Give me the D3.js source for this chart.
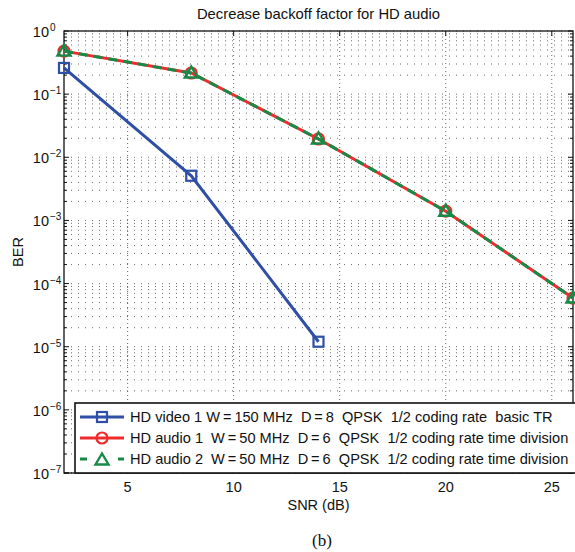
<!DOCTYPE html>
<html>
<head>
<meta charset="utf-8">
<script src="https://cdn.jsdelivr.net/npm/d3@7"></script>
<style>
  body { margin: 0; background: #fff; }
  text { font-family: "Liberation Sans", Arial, Helvetica, sans-serif; fill: #111; }
</style>
</head>
<body>
<svg id="chart" width="575" height="552"></svg>
<script>
// data
var snrVideo = [2, 8, 14];
var berVideo = [0.26, 0.0051, 1.2e-5];
var snrAudio = [2, 8, 14, 20, 26];
var berAudio1 = [0.48, 0.216, 0.0195, 0.0014, 5.9e-5];
var berAudio2 = [0.48, 0.216, 0.0195, 0.0014, 5.9e-5];
var xTicks = [5, 10, 15, 20, 25];
var yExponents = [0, -1, -2, -3, -4, -5, -6, -7];
var legendLabels = [
    "HD video 1 W\u2009=\u2009150 MHz  D\u2009=\u20098  QPSK  1/2 coding rate  basic TR",
    "HD audio 1  W\u2009=\u200950 MHz  D\u2009=\u20096  QPSK  1/2 coding rate time division",
    "HD audio 2  W\u2009=\u200950 MHz  D\u2009=\u20096  QPSK  1/2 coding rate time division"
];

var blue = "#2f4fa6", red = "#ef2b2d", green = "#178a48";

// plot box (note: "top" is taken by window.top)
var pLeft = 64, pRight = 573, pTop = 31, pBottom = 473;
var svg = d3.select("#chart");

var x = d3.scaleLinear().domain([2, 26]).range([pLeft, pRight]);
var y = d3.scaleLog().domain([1, 1e-7]).range([pTop, pBottom]);

/*
grid: dotted horizontal lines on every decade step, dotted verticals on x ticks
*/
var yGrid = [];
yExponents.forEach(function(e){
    if(e == -7) { yGrid.push(1e-7); return; }
    for(var k = 1; k < 10; k++) yGrid.push(k * Math.pow(10, e - 1));
});
yGrid.push(1);

var grid = svg.append("g").attr("class", "grid");
grid.selectAll("line.h").data(yGrid).enter().append("line")
    .attr("class", "h")
    .attr("x1", pLeft).attr("x2", pRight)
    .attr("y1", function(d){ return y(d); })
    .attr("y2", function(d){ return y(d); })
    .style("stroke", "#444")
    .style("stroke-width", "0.8")
    .style("stroke-dasharray", "1,6");
grid.selectAll("line.v").data(xTicks).enter().append("line")
    .attr("class", "v")
    .attr("x1", function(d){ return x(d); }).attr("x2", function(d){ return x(d); })
    .attr("y1", pTop).attr("y2", pBottom)
    .style("stroke", "#444")
    .style("stroke-width", "0.8")
    .style("stroke-dasharray", "1,3");

/*
axes box with inward ticks
*/
var axes = svg.append("g").attr("class", "axes");
axes.append("rect")
    .attr("x", pLeft).attr("y", pTop)
    .attr("width", pRight - pLeft).attr("height", pBottom - pTop)
    .style("fill", "none").style("stroke", "#111").style("stroke-width", "1.3");

yGrid.forEach(function(d){
    var major = Math.abs(Math.log10(d) - Math.round(Math.log10(d))) < 1e-9;
    var len = major ? 5 : 3;
    axes.append("line").attr("x1", pLeft).attr("x2", pLeft + len)
        .attr("y1", y(d)).attr("y2", y(d)).style("stroke", "#111");
    axes.append("line").attr("x1", pRight).attr("x2", pRight - len)
        .attr("y1", y(d)).attr("y2", y(d)).style("stroke", "#111");
});
xTicks.forEach(function(d){
    axes.append("line").attr("x1", x(d)).attr("x2", x(d))
        .attr("y1", pBottom).attr("y2", pBottom - 5).style("stroke", "#111");
    axes.append("line").attr("x1", x(d)).attr("x2", x(d))
        .attr("y1", pTop).attr("y2", pTop + 5).style("stroke", "#111");
});

// tick labels
axes.selectAll("text.xt").data(xTicks).enter().append("text")
    .attr("class", "xt")
    .attr("x", function(d){ return x(d); })
    .attr("y", pBottom + 19)
    .attr("text-anchor", "middle")
    .style("font-size", "14.5px")
    .text(function(d){ return d; });

var yt = axes.selectAll("g.yt").data(yExponents).enter().append("g").attr("class", "yt");
yt.append("text")
    .attr("x", 49)
    .attr("y", function(d){ return y(Math.pow(10, d)) + 6; })
    .attr("text-anchor", "end")
    .style("font-size", "14.5px")
    .text("10");
yt.append("text")
    .attr("x", 50)
    .attr("y", function(d){ return y(Math.pow(10, d)); })
    .style("font-size", "10px")
    .text(function(d){ return d == 0 ? "0" : "\u2212" + (-d); });

// titles
svg.append("text")
    .attr("x", (pLeft + pRight) / 2).attr("y", 19)
    .attr("text-anchor", "middle")
    .style("font-size", "14.8px")
    .text("Decrease backoff factor for HD audio");
svg.append("text")
    .attr("x", (pLeft + pRight) / 2).attr("y", 510)
    .attr("text-anchor", "middle")
    .style("font-size", "14.5px")
    .text("SNR (dB)");
svg.append("text")
    .attr("transform", "translate(23," + ((pTop + pBottom) / 2) + ") rotate(-90)")
    .attr("text-anchor", "middle")
    .style("font-size", "14.5px")
    .text("BER");
svg.append("text")
    .attr("x", 322).attr("y", 546)
    .attr("text-anchor", "middle")
    .style("font-family", "'Liberation Serif', 'Times New Roman', serif")
    .style("font-size", "17px")
    .text("(b)");

/*
series lines and markers
*/
var line = d3.line()
    .x(function(d){ return x(d[0]); })
    .y(function(d){ return y(d[1]); });

function drawMarker(g, kind, cx, cy, color){
    if(kind == "square"){
        g.append("rect").attr("x", cx - 5).attr("y", cy - 5)
            .attr("width", 10).attr("height", 10)
            .style("fill", "none").style("stroke", color).style("stroke-width", "2.2");
    }
    else if(kind == "circle"){
        g.append("circle").attr("cx", cx).attr("cy", cy).attr("r", 5.5)
            .style("fill", "none").style("stroke", color).style("stroke-width", "2.2");
    }
    else{
        g.append("path")
            .attr("d", "M" + cx + "," + (cy - 6.5) + "L" + (cx + 6.5) + "," + (cy + 4.5) +
                "L" + (cx - 6.5) + "," + (cy + 4.5) + "Z")
            .style("fill", "none").style("stroke", color).style("stroke-width", "2.4")
            .style("stroke-linejoin", "miter");
    }
}

var series = [
    {snr: snrVideo, ber: berVideo, color: blue, marker: "square", dash: null},
    {snr: snrAudio, ber: berAudio1, color: red, marker: "circle", dash: null},
    {snr: snrAudio, ber: berAudio2, color: green, marker: "triangle", dash: "9,6"}
];

var plot = svg.append("g").attr("class", "plot");
series.forEach(function(s){
    var pts = d3.zip(s.snr, s.ber);
    plot.append("path")
        .attr("d", line(pts))
        .style("fill", "none")
        .style("stroke", s.color)
        .style("stroke-width", "3")
        .style("stroke-dasharray", s.dash);
    pts.forEach(function(p){ drawMarker(plot, s.marker, x(p[0]), y(p[1]), s.color); });
});

/*
legend in lower part of the axes
*/
var lg = svg.append("g").attr("class", "legend");
lg.append("rect")
    .attr("x", 75).attr("y", 403)
    .attr("width", 505).attr("height", pBottom - 403)
    .style("fill", "#fff").style("stroke", "#111").style("stroke-width", "1.6");

series.forEach(function(s, i){
    var cy = 417 + i * 21;
    lg.append("line")
        .attr("x1", 80).attr("x2", 124).attr("y1", cy).attr("y2", cy)
        .style("stroke", s.color).style("stroke-width", "3")
        .style("stroke-dasharray", s.dash ? "7,31" : null);
    drawMarker(lg, s.marker, 102, cy + (s.marker == "triangle" ? 1 : 0), s.color);
    lg.append("text")
        .attr("x", 130).attr("y", cy + 5)
        .style("font-size", "14.6px")
        .style("white-space", "pre")
        .attr("xml:space", "preserve")
        .text(legendLabels[i]);
});
</script>
</body>
</html>
